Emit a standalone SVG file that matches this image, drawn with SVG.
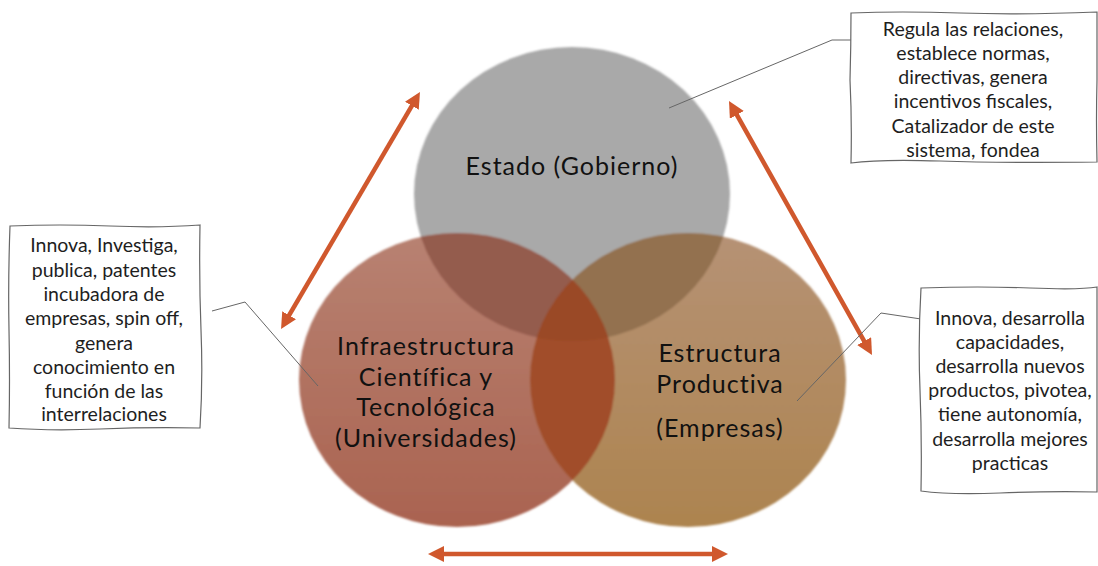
<svg xmlns="http://www.w3.org/2000/svg" width="1098" height="566" viewBox="0 0 1098 566">
  <style>
    .lbl { font-family: Lato, "Liberation Sans", sans-serif; font-size: 25px; letter-spacing: 1px; fill: #111; text-anchor: middle; }
    .note { font-family: Lato, "Liberation Sans", sans-serif; font-size: 19.5px; fill: #1e1e1e; text-anchor: middle; }
    .box { fill: #fff; stroke: #666; stroke-width: 1.2; }
    .leader { fill: none; stroke: #666; stroke-width: 1; }
    .arrow { fill: none; stroke: #d0582d; stroke-width: 4.5; marker-start: url(#ah); marker-end: url(#ah); }
  </style>
  <defs>
    <marker id="ah" viewBox="0 0 16 16" refX="6" refY="8" markerWidth="16" markerHeight="16" markerUnits="userSpaceOnUse" orient="auto-start-reverse">
      <path d="M0,0 L16,8 L0,16 z" fill="#d0582d"/>
    </marker>
    <linearGradient id="gRed" x1="0" y1="0" x2="0" y2="1">
      <stop offset="0" stop-color="#b88272"/>
      <stop offset="1" stop-color="#aa6350"/>
    </linearGradient>
    <linearGradient id="gBrown" x1="0" y1="0" x2="0" y2="1">
      <stop offset="0" stop-color="#b69275"/>
      <stop offset="1" stop-color="#ad844f"/>
    </linearGradient>
    <clipPath id="cGray"><ellipse cx="572" cy="194" rx="158" ry="147"/></clipPath>
    <clipPath id="cRed"><ellipse cx="457" cy="380" rx="158" ry="147"/></clipPath>
    <clipPath id="cBrown"><ellipse cx="688" cy="380" rx="158" ry="147"/></clipPath>
    <filter id="soft" x="-5%" y="-5%" width="110%" height="110%">
      <feGaussianBlur stdDeviation="0.8"/>
    </filter>
  </defs>

  <rect width="1098" height="566" fill="#fff"/>

  <g filter="url(#soft)">
    <g id="estado">
      <ellipse cx="572" cy="194" rx="158" ry="147" fill="#a9a9a9"/>
    </g>
    <g id="infraestructura">
      <ellipse cx="457" cy="380" rx="158" ry="147" fill="url(#gRed)"/>
    </g>
    <g id="estructura">
      <ellipse cx="688" cy="380" rx="158" ry="147" fill="url(#gBrown)"/>
    </g>
    <g id="overlaps">
      <ellipse cx="457" cy="380" rx="158" ry="147" fill="#945b4d" clip-path="url(#cGray)"/>
      <ellipse cx="688" cy="380" rx="158" ry="147" fill="#93714f" clip-path="url(#cGray)"/>
      <ellipse cx="457" cy="380" rx="158" ry="147" fill="#a14e29" clip-path="url(#cBrown)"/>
      <g clip-path="url(#cGray)">
        <ellipse cx="457" cy="380" rx="158" ry="147" fill="#9a4826" clip-path="url(#cBrown)"/>
      </g>
    </g>
  </g>

  <g id="labels">
    <text class="lbl" x="572" y="175">Estado (Gobierno)</text>
    <text class="lbl" x="426" y="355">Infraestructura</text>
    <text class="lbl" x="426" y="385.5">Científica y</text>
    <text class="lbl" x="426" y="416">Tecnológica</text>
    <text class="lbl" x="426" y="446.5">(Universidades)</text>
    <text class="lbl" x="720" y="362">Estructura</text>
    <text class="lbl" x="720" y="392.5">Productiva</text>
    <text class="lbl" x="720" y="437">(Empresas)</text>
  </g>

  <g id="connectors">
    <line class="arrow" x1="414.9" y1="100.6" x2="286.1" y2="320.4"/>
    <line class="arrow" x1="733.9" y1="109.7" x2="867.1" y2="346.3"/>
    <line class="arrow" x1="438" y1="554" x2="718" y2="554"/>
    <path class="leader" d="M851,40 L832,40 L669,108"/>
    <path class="leader" d="M212,311 L245,302 L318,386"/>
    <path class="leader" d="M921,319 L881,313 L797,401"/>
  </g>

  <g id="note-estado">
    <path class="box" d="M851,13 Q900,11 960,13 T1097,12 L1097,80 Q1096,120 1097,162 Q1000,163 940,161 T851,163 Q852,120 850,80 Q851,45 851,13 z"/>
    <text class="note" x="973" y="36">Regula las relaciones,</text>
    <text class="note" x="973" y="60">establece normas,</text>
    <text class="note" x="973" y="84">directivas, genera</text>
    <text class="note" x="973" y="108">incentivos fiscales,</text>
    <text class="note" x="973" y="133">Catalizador de este</text>
    <text class="note" x="973" y="157">sistema, fondea</text>
  </g>

  <g id="note-infraestructura">
    <path class="box" d="M10,226 Q60,224 110,226 T200,225 Q199,280 201,330 T200,428 Q150,427 100,429 T9,428 Q10,380 9,330 T10,226 z"/>
    <text class="note" x="104" y="252">Innova, Investiga,</text>
    <text class="note" x="104" y="277">publica, patentes</text>
    <text class="note" x="104" y="301">incubadora de</text>
    <text class="note" x="104" y="325">empresas, spin off,</text>
    <text class="note" x="104" y="350">genera</text>
    <text class="note" x="104" y="374">conocimiento en</text>
    <text class="note" x="104" y="398">función de las</text>
    <text class="note" x="104" y="421">interrelaciones</text>
  </g>

  <g id="note-estructura">
    <path class="box" d="M921,288 Q980,286 1030,288 T1097,287 L1097,492 Q1050,491 1000,493 T921,491 Q922,440 920,390 T921,288 z"/>
    <text class="note" x="1010" y="325">Innova, desarrolla</text>
    <text class="note" x="1010" y="349">capacidades,</text>
    <text class="note" x="1010" y="372.5">desarrolla nuevos</text>
    <text class="note" x="1010" y="397">productos, pivotea,</text>
    <text class="note" x="1010" y="421">tiene autonomía,</text>
    <text class="note" x="1010" y="446">desarrolla mejores</text>
    <text class="note" x="1010" y="470">practicas</text>
  </g>
</svg>
